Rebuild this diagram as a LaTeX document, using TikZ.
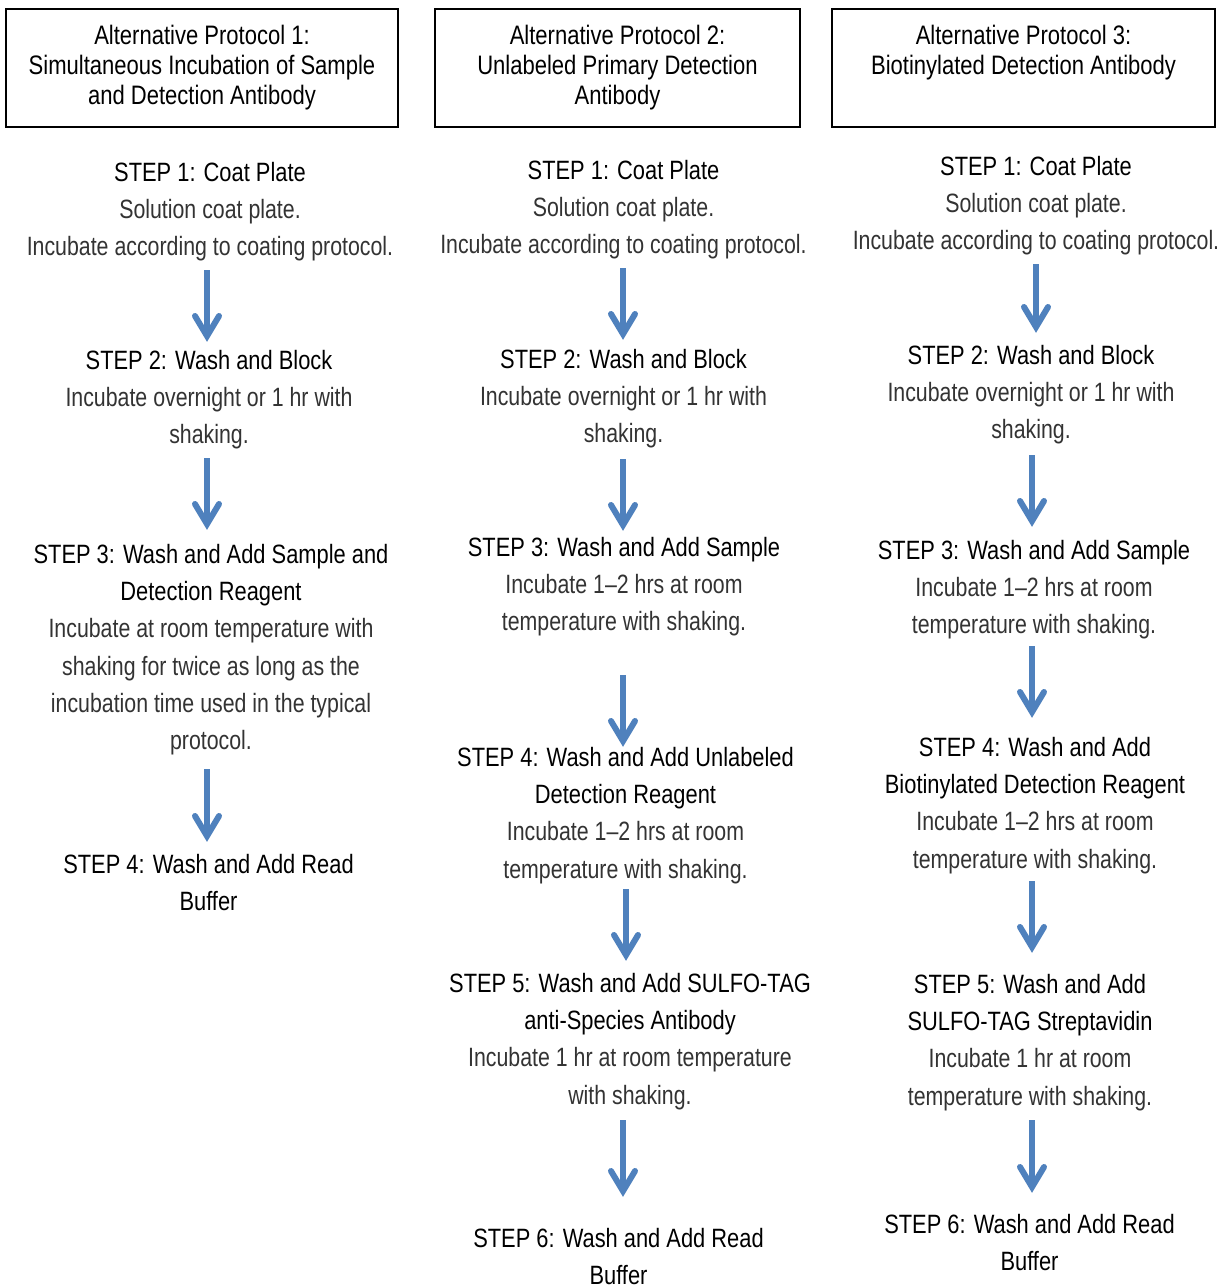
\documentclass[tikz,border=0pt]{standalone}
\usepackage{fontspec}
\setmainfont[FakeStretch=0.825]{Liberation Sans}
\newfontfamily\descfont[FakeStretch=0.805,Ligatures=TeX]{Liberation Sans}
\usetikzlibrary{calc}
\definecolor{flowblue}{HTML}{4F81BD}
\definecolor{descgray}{HTML}{333333}
\newcommand{\firstln}{\rule{0pt}{20pt}}
\newcommand{\dsc}[1]{{\descfont\color{descgray}#1}}
\tikzset{
  stepblock/.style={anchor=north, inner sep=0pt, align=center,
    font=\fontsize{26.5}{37.3}\selectfont},
  titlebox/.style={draw=black, line width=2pt, inner sep=0pt},
  titletext/.style={anchor=north, inner sep=0pt, align=center,
    font=\fontsize{26.7}{30}\selectfont},
  flowline/.style={draw=flowblue, line width=5.5pt},
  flowhead/.style={draw=flowblue, line width=6pt, line cap=round, line join=miter},
}
\newcommand{\flowarrow}[2]{%
  \draw[flowline] (#1) -- ($(#2)+(0,-4)$);
  \draw[flowhead] ($(#2)+(-12,-20)$) -- (#2) -- ($(#2)+(12,-20)$);
}
\begin{document}
\begin{tikzpicture}[x=1pt,y=-1pt]
\useasboundingbox (0,0) rectangle (1220,1288);
\fill[white] (0,0) rectangle (1220,1288);

% title boxes
\node[titlebox, minimum width=392pt, minimum height=118pt] (b1) at (202,68) {};
\node[titlebox, minimum width=365pt, minimum height=118pt] (b2) at (617.5,68) {};
\node[titlebox, minimum width=383pt, minimum height=118pt] (b3) at (1023.5,68) {};
\node[titletext] (t1) at (202,24) {\firstln Alternative Protocol 1:\\Simultaneous Incubation of Sample\\and Detection Antibody};
\node[titletext] (t2) at (617.5,24) {\firstln Alternative Protocol 2:\\Unlabeled Primary Detection\\Antibody};
\node[titletext] (t3) at (1023.5,24) {\firstln Alternative Protocol 3:\\Biotinylated Detection Antibody};

% column 1
\node[stepblock] (s11) at (210,161) {\firstln STEP 1: Coat Plate\\\dsc{Solution coat plate.}\\\dsc{Incubate according to coating protocol.}};
\node[stepblock] (s12) at (209,349) {\firstln STEP 2: Wash and Block\\\dsc{Incubate overnight or 1 hr with}\\\dsc{shaking.}};
\node[stepblock] (s13) at (211,543) {\firstln STEP 3: Wash and Add Sample and\\Detection Reagent\\\dsc{Incubate at room temperature with}\\\dsc{shaking for twice as long as the}\\\dsc{incubation time used in the typical}\\\dsc{protocol.}};
\node[stepblock] (s14) at (208.5,853) {\firstln STEP 4: Wash and Add Read\\Buffer};

% column 2
\node[stepblock] (s21) at (623.5,159) {\firstln STEP 1: Coat Plate\\\dsc{Solution coat plate.}\\\dsc{Incubate according to coating protocol.}};
\node[stepblock] (s22) at (623.5,348) {\firstln STEP 2: Wash and Block\\\dsc{Incubate overnight or 1 hr with}\\\dsc{shaking.}};
\node[stepblock] (s23) at (624,536) {\firstln STEP 3: Wash and Add Sample\\\dsc{Incubate 1–2 hrs at room}\\\dsc{temperature with shaking.}};
\node[stepblock] (s24) at (625.5,746) {\firstln STEP 4: Wash and Add Unlabeled\\Detection Reagent\\\dsc{Incubate 1–2 hrs at room}\\\dsc{temperature with shaking.}};
\node[stepblock] (s25) at (630,972) {\firstln STEP 5: Wash and Add SULFO-TAG\\anti-Species Antibody\\\dsc{Incubate 1 hr at room temperature}\\\dsc{with shaking.}};
\node[stepblock] (s26) at (618.5,1227) {\firstln STEP 6: Wash and Add Read\\Buffer};

% column 3
\node[stepblock] (s31) at (1036,155) {\firstln STEP 1: Coat Plate\\\dsc{Solution coat plate.}\\\dsc{Incubate according to coating protocol.}};
\node[stepblock] (s32) at (1031,344) {\firstln STEP 2: Wash and Block\\\dsc{Incubate overnight or 1 hr with}\\\dsc{shaking.}};
\node[stepblock] (s33) at (1034,539) {\firstln STEP 3: Wash and Add Sample\\\dsc{Incubate 1–2 hrs at room}\\\dsc{temperature with shaking.}};
\node[stepblock] (s34) at (1035,736) {\firstln STEP 4: Wash and Add\\Biotinylated Detection Reagent\\\dsc{Incubate 1–2 hrs at room}\\\dsc{temperature with shaking.}};
\node[stepblock] (s35) at (1030,973) {\firstln STEP 5: Wash and Add\\SULFO-TAG Streptavidin\\\dsc{Incubate 1 hr at room}\\\dsc{temperature with shaking.}};
\node[stepblock] (s36) at (1029.5,1213) {\firstln STEP 6: Wash and Add Read\\Buffer};

% arrow end points
\coordinate (a11s) at (207,270);  \coordinate (a11e) at (207,336);
\coordinate (a12s) at (207,458);  \coordinate (a12e) at (207,524);
\coordinate (a13s) at (207,769);  \coordinate (a13e) at (207,836);
\coordinate (a21s) at (623,268);  \coordinate (a21e) at (623,334);
\coordinate (a22s) at (623,459);  \coordinate (a22e) at (623,525);
\coordinate (a23s) at (623,675);  \coordinate (a23e) at (623,741);
\coordinate (a24s) at (626,889);  \coordinate (a24e) at (626,955);
\coordinate (a25s) at (623,1120); \coordinate (a25e) at (623,1191);
\coordinate (a31s) at (1036,264); \coordinate (a31e) at (1036,327);
\coordinate (a32s) at (1032,455); \coordinate (a32e) at (1032,521);
\coordinate (a33s) at (1032,646); \coordinate (a33e) at (1032,712);
\coordinate (a34s) at (1032,881); \coordinate (a34e) at (1032,947);
\coordinate (a35s) at (1032,1120);\coordinate (a35e) at (1032,1187);

\flowarrow{a11s}{a11e}
\flowarrow{a12s}{a12e}
\flowarrow{a13s}{a13e}
\flowarrow{a21s}{a21e}
\flowarrow{a22s}{a22e}
\flowarrow{a23s}{a23e}
\flowarrow{a24s}{a24e}
\flowarrow{a25s}{a25e}
\flowarrow{a31s}{a31e}
\flowarrow{a32s}{a32e}
\flowarrow{a33s}{a33e}
\flowarrow{a34s}{a34e}
\flowarrow{a35s}{a35e}
\end{tikzpicture}
\end{document}
